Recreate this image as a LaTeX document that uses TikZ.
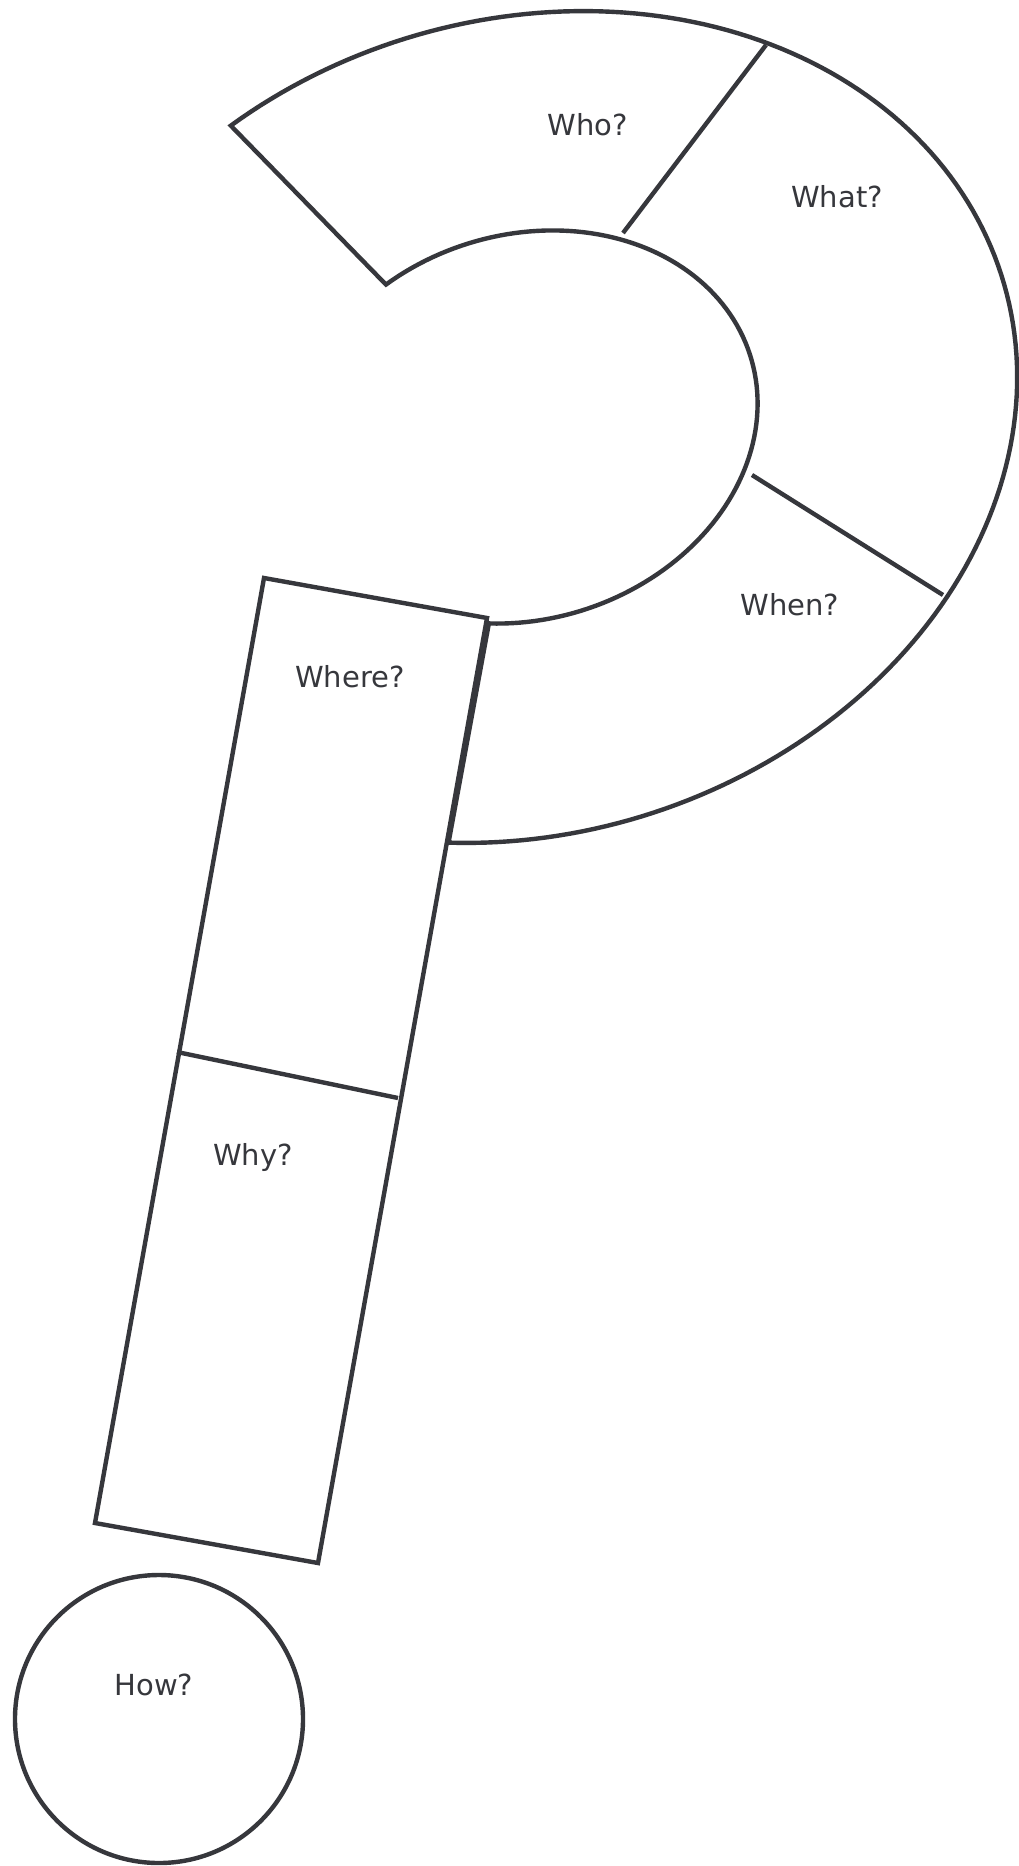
\documentclass[tikz,border=0pt]{standalone}
\usepackage{fontspec}
\setmainfont{DejaVu Sans}
\definecolor{ink}{HTML}{36373C}
\begin{document}
\begin{tikzpicture}[x=1pt,y=-1pt,
  shp/.style={draw=ink, line width=4.4pt, line join=miter},
  lbl/.style={text=ink, font=\fontsize{29}{34}\selectfont, inner sep=0pt}]
\useasboundingbox[fill=white] (0,0) rectangle (1018,1866);

% key points
\coordinate (whoA) at (623,233);
\coordinate (whoB) at (766,45);
\coordinate (whenA) at (752,475);
\coordinate (whenB) at (943,595);
\coordinate (rTL) at (264,578);
\coordinate (rTR) at (487,618);
\coordinate (rBR) at (318,1563);
\coordinate (rBL) at (95,1523);
\coordinate (whyA) at (177,1052);
\coordinate (whyB) at (398,1098);

% hook of the question mark: part of two concentric rotated ellipses
\draw[shp]
  plot[domain=-112.25:113.4, samples=160, variable=\t]
    ({525+476.60*cos(\t)+122.91*sin(\t)}, {427-151.185*cos(\t)+387.47*sin(\t)})
  -- plot[domain=0:225.65, samples=120, variable=\s]
    ({525+225.24*cos(113.4-\s)+58.09*sin(113.4-\s)}, {427-71.45*cos(113.4-\s)+183.12*sin(113.4-\s)})
  -- cycle;

% dividers of the hook
\draw[shp] (whoA) -- (whoB);
\draw[shp] (whenA) -- (whenB);

% stem
\draw[shp] (rTL) -- (rTR) -- (rBR) -- (rBL) -- cycle;
\draw[shp] (whyA) -- (whyB);

% dot
\node[circle, draw=ink, line width=4.4pt, minimum size=288pt, inner sep=0pt] (dot) at (159,1719) {};

% labels
\node[lbl] (who) at (588,125) {Who?};
\node[lbl] (what) at (837,197) {What?};
\node[lbl] (when) at (790,605) {When?};
\node[lbl] (where) at (350,677) {Where?};
\node[lbl] (why) at (253,1157) {Why?};
\node[lbl] (how) at (154,1685) {How?};
\end{tikzpicture}
\end{document}
